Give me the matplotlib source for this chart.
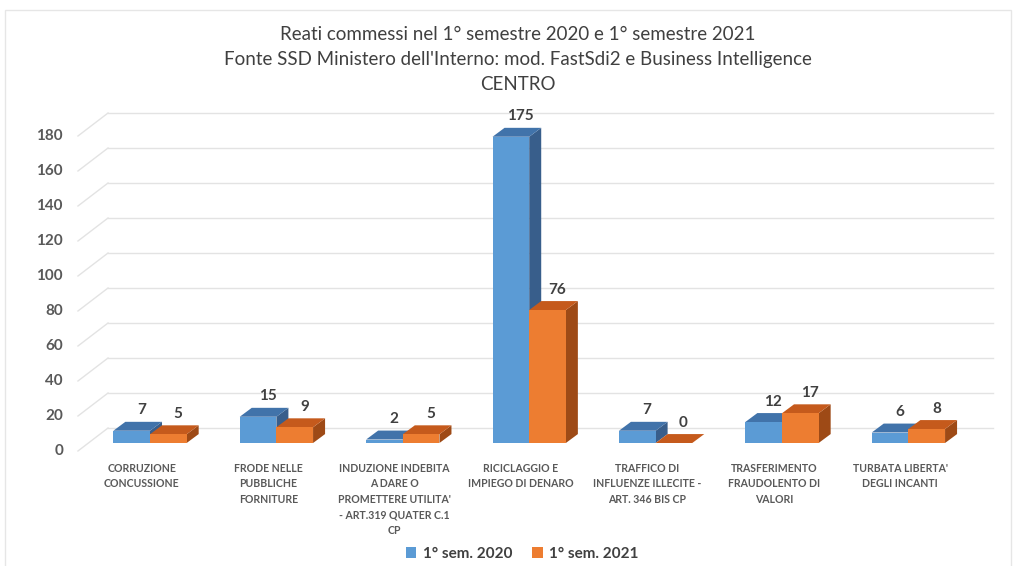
import matplotlib
matplotlib.use("Agg")
import matplotlib.pyplot as plt
from matplotlib.patches import Polygon, Rectangle

# data
categories = [
    "CORRUZIONE\nCONCUSSIONE",
    "FRODE NELLE\nPUBBLICHE\nFORNITURE",
    "INDUZIONE INDEBITA\nA DARE O\nPROMETTERE UTILITA'\n- ART.319 QUATER C.1\nCP",
    "RICICLAGGIO E\nIMPIEGO DI DENARO",
    "TRAFFICO DI\nINFLUENZE ILLECITE -\nART. 346 BIS CP",
    "TRASFERIMENTO\nFRAUDOLENTO DI\nVALORI",
    "TURBATA LIBERTA'\nDEGLI INCANTI",
]
sem_2020 = [7, 15, 2, 175, 7, 12, 6]
sem_2021 = [5, 9, 5, 76, 0, 17, 8]
series_names = ["1° sem. 2020", "1° sem. 2021"]
yticks = [0, 20, 40, 60, 80, 100, 120, 140, 160, 180]
title = ("Reati commessi nel 1° semestre 2020 e 1° semestre 2021\n"
         "Fonte SSD Ministero dell'Interno: mod. FastSdi2 e Business Intelligence\n"
         "CENTRO")

plt.rcParams['font.family'] = ['Lato', 'DejaVu Sans']

# colours: front, top, side
blue = ("#5B9BD5", "#4173AA", "#385E8B")
orange = ("#ED7D31", "#C55A1C", "#9E4A16")
txt = "#404040"
grey = "#595959"

W = 0.29           # bar width (category units)
DX, DY = 0.095, 5.1    # bar depth
WALL_X0, WALL_Y = -0.332, 8.57   # back wall offset
FRONT_X, FRONT_Y = -0.570, -4.57  # front floor edge

fig = plt.figure(figsize=(10.16, 5.66), dpi=100)
ax = fig.add_axes([40 / 1016, 106 / 566, 960 / 1016, 360 / 566])
ax.set_xlim(-0.8703, 6.7247)
ax.set_ylim(-9.714, 196.0)
ax.axis('off')

# back wall gridlines + floor diagonals
for t in yticks:
    ax.plot([WALL_X0, 6.669], [t + WALL_Y, t + WALL_Y], color="#e3e3e3", lw=1, zorder=0)
    ax.plot([FRONT_X, WALL_X0], [t + FRONT_Y, t + WALL_Y], color="#e3e3e3", lw=1, zorder=0)
    ax.text(-0.688, t + FRONT_Y, str(t), ha='right', va='center', fontsize=11,
            fontweight='bold', color=grey)


def draw_box(x0, v, cols, z):
    front, top, side = cols
    ax.add_patch(Polygon([(x0 + W, 0), (x0 + W + DX, DY), (x0 + W + DX, v + DY), (x0 + W, v)],
                         closed=True, fc=side, ec='none', zorder=z))
    ax.add_patch(Polygon([(x0, v), (x0 + DX, v + DY), (x0 + W + DX, v + DY), (x0 + W, v)],
                         closed=True, fc=top, ec='none', zorder=z))


xs = list(range(len(categories)))
for i, x in enumerate(xs):
    draw_box(x - W, sem_2020[i], blue, 2 + i * 4)
    ax.bar(x - W, sem_2020[i], width=W, align='edge', color=blue[0],
           zorder=3 + i * 4, label=series_names[0] if i == 0 else None)
    draw_box(x, sem_2021[i], orange, 4 + i * 4)
    ax.bar(x, sem_2021[i], width=W, align='edge', color=orange[0],
           zorder=5 + i * 4, label=series_names[1] if i == 0 else None)
    for xo, v in ((x - W, sem_2020[i]), (x, sem_2021[i])):
        ax.text(xo + W / 2 + 0.8 * DX, v + DY + 2.5, str(v), ha='center', va='bottom',
                fontsize=11, fontweight='bold', color=txt, zorder=50)
    ax.text(x - 0.065, -11.4, categories[i], ha='center', va='top', fontsize=7.6,
            fontweight='bold', color=grey, linespacing=1.5, clip_on=False)

fig.text(0.51, 1 - 26 / 566, title, ha='center', va='top', fontsize=13.5,
         color=txt, linespacing=1.58)

fig.legend(loc='center', bbox_to_anchor=(522 / 1016, 1 - 554 / 566), ncol=2,
           frameon=False, handlelength=0.7, handleheight=0.7, handletextpad=0.4,
           columnspacing=1.3, prop={'size': 11, 'weight': 'bold'}, labelcolor=txt)

fig.patches.append(Rectangle((5, -10), 1006, 566, transform=None, fill=False,
                             ec="#e6e6e6", lw=1))

fig.savefig("out.png", dpi=100)
